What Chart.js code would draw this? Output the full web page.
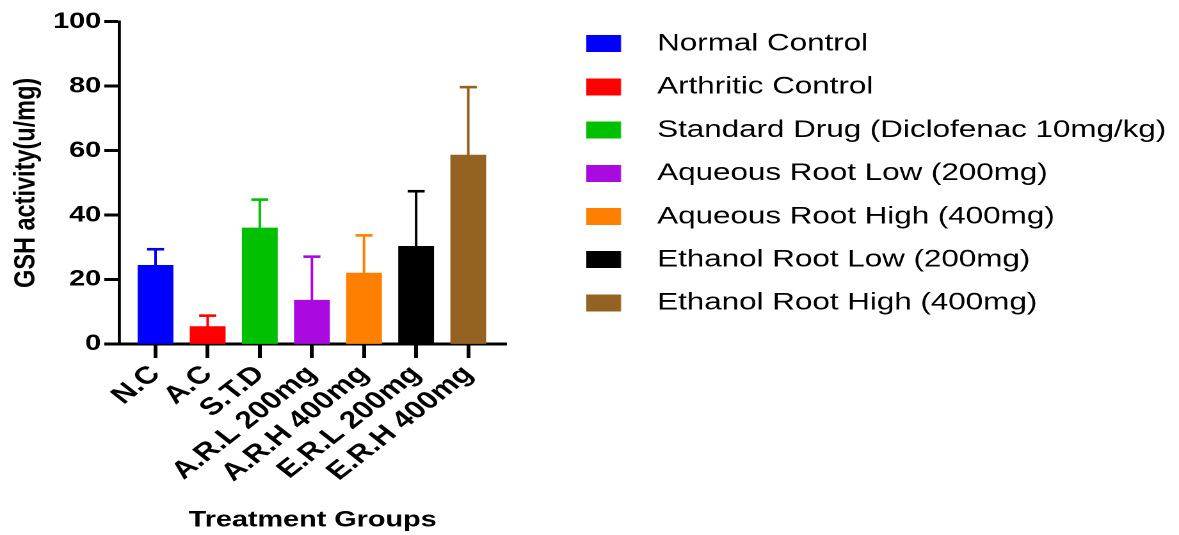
<!DOCTYPE html>
<html>
<head>
<meta charset="utf-8">
<title>GSH activity by treatment group</title>
<script src="https://cdn.jsdelivr.net/npm/chart.js@4.4.1/dist/chart.umd.min.js"></script>
<style>
  html, body { margin: 0; padding: 0; background: #ffffff; }
</style>
</head>
<body>
<!-- The figure is laid out on a 921px-wide canvas and displayed widened to 1179px. -->
<canvas id="gshChart" width="921" height="535" style="display:block;width:1179px;height:535px;"></canvas>
<script>
// Treatment groups (axis labels and legend names)
const categories = ['N.C', 'A.C', 'S.T.D', 'A.R.L 200mg', 'A.R.H 400mg', 'E.R.L 200mg', 'E.R.H 400mg'];
const groupNames = [
  'Normal Control',
  'Arthritic Control',
  'Standard Drug (Diclofenac 10mg/kg)',
  'Aqueous Root Low (200mg)',
  'Aqueous Root High (400mg)',
  'Ethanol Root Low (200mg)',
  'Ethanol Root High (400mg)'
];
// GSH activity (u/mg): group means and upper error (SD)
const gshMean  = [24.4, 5.4, 36.0, 13.6, 22.0, 30.3, 58.6];
const gshError = [5.0, 3.4, 8.8, 13.5, 11.7, 17.1, 21.1];
const barColors = ['#0000ff', '#ff0000', '#00c000', '#aa0ae0', '#ff8000', '#000000', '#956321'];
const yTicks = [0, 20, 40, 60, 80, 100];

const FONT = "'Liberation Sans', Arial, Helvetica, sans-serif";

// Legend swatch: coloured block on the left, transparent space after it
function makeSwatch(color) {
  const c = document.createElement('canvas');
  c.width = 43;
  c.height = 17;
  const g = c.getContext('2d');
  g.fillStyle = color;
  g.fillRect(0, 0, 27, 17);
  return c;
}
const swatches = barColors.map(makeSwatch);

// Upward-only error bars with a cap, in the colour of each bar
const errorBars = {
  id: 'errorBars',
  afterDatasetsDraw(chart, args, opts) {
    const { ctx, scales: { y } } = chart;
    const meta = chart.getDatasetMeta(0);
    ctx.save();
    ctx.lineCap = 'butt';
    meta.data.forEach((bar, i) => {
      const cx = bar.x;
      const yBase = y.getPixelForValue(gshMean[i]);
      const yTop = y.getPixelForValue(gshMean[i] + gshError[i]);
      ctx.strokeStyle = barColors[i];
      ctx.lineWidth = opts.stemWidth;
      ctx.beginPath();
      ctx.moveTo(cx, yBase);
      ctx.lineTo(cx, yTop);
      ctx.stroke();
      ctx.lineWidth = opts.capLineWidth;
      ctx.beginPath();
      ctx.moveTo(cx - opts.capWidth / 2, yTop);
      ctx.lineTo(cx + opts.capWidth / 2, yTop);
      ctx.stroke();
    });
    ctx.restore();
  }
};

new Chart(document.getElementById('gshChart'), {
  type: 'bar',
  data: {
    datasets: [{
      data: gshMean.map((v, i) => ({ x: i, y: v })),
      backgroundColor: barColors,
      borderWidth: 0,
      barThickness: 27.3
    }]
  },
  options: {
    responsive: false,
    animation: false,
    devicePixelRatio: 2,
    events: [],
    layout: { padding: { top: 12.75, left: 0, right: 0, bottom: 0 } },
    scales: {
      x: {
        type: 'linear',
        offset: false,
        min: -0.7,
        max: 6.73,
        afterBuildTicks: s => { s.ticks = categories.map((_, i) => ({ value: i })); },
        afterFit: s => { s.height = 191; },
        grid: { display: true, offset: false, drawOnChartArea: false, drawTicks: true, tickLength: 14, tickWidth: 3, color: '#000' },
        border: { display: true, color: '#000', width: 3 },
        ticks: {
          autoSkip: false,
          minRotation: 45,
          maxRotation: 45,
          padding: 2,
          color: '#000',
          font: { family: FONT, size: 24.5, weight: 'bold' },
          callback: v => categories[v]
        },
        title: {
          display: true,
          text: 'Treatment Groups',
          color: '#000',
          font: { family: FONT, size: 22.5, weight: 'bold' },
          padding: { top: 0, bottom: 1 }
        }
      },
      y: {
        type: 'linear',
        position: 'left',
        min: 0,
        max: 100,
        afterBuildTicks: s => { s.ticks = yTicks.map(v => ({ value: v })); },
        afterFit: s => { s.width = 93; s.paddingTop = 21.7; },
        grid: { display: true, drawOnChartArea: false, drawTicks: true, tickLength: 11.5, tickWidth: 3, color: '#000' },
        border: { display: true, color: '#000', width: 2.4 },
        ticks: {
          padding: 2.5,
          color: '#000',
          font: { family: FONT, size: 22.5, weight: 'bold' }
        },
        title: {
          display: true,
          text: 'GSH activity(u/mg)',
          color: '#000',
          font: { family: FONT, size: 23.5, weight: 'bold' },
          padding: { top: 6.4, bottom: 0 }
        }
      },
      // empty band separating the plot from the legend
      gap: {
        type: 'linear',
        axis: 'y',
        position: 'right',
        display: true,
        afterFit: s => { s.width = 43.9; },
        grid: { display: false },
        border: { display: false },
        ticks: { display: false }
      }
    },
    plugins: {
      tooltip: { enabled: false },
      legend: {
        position: 'right',
        align: 'start',
        maxWidth: 700,
        labels: {
          usePointStyle: true,
          pointStyleWidth: 43,
          padding: 18.7,
          color: '#000',
          font: { family: FONT, size: 24.5 },
          generateLabels: () => groupNames.map((name, i) => ({
            text: name,
            fillStyle: barColors[i],
            strokeStyle: barColors[i],
            lineWidth: 0,
            pointStyle: swatches[i],
            hidden: false,
            index: i,
            datasetIndex: 0
          }))
        }
      },
      errorBars: { stemWidth: 2, capLineWidth: 2.6, capWidth: 13.3 }
    }
  },
  plugins: [errorBars]
});
</script>
</body>
</html>
